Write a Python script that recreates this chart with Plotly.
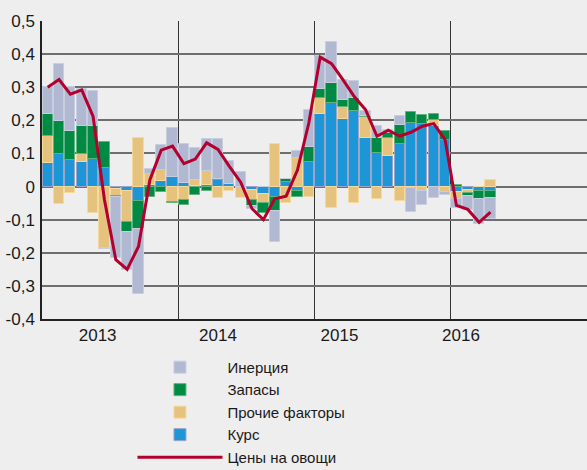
import plotly.graph_objects as go

# Month index 0 = Jan 2013
months = list(range(40))

kurs = [0.071, 0.098, 0.081, 0.075, 0.084, 0.056, -0.007, -0.014, -0.043, 0.004,
        0.018, 0.028, 0.012, 0.003, 0.006, 0.021, 0.009, 0.0, -0.011, -0.022,
        -0.031, 0.013, -0.012, 0.073, 0.22, 0.252, 0.204, 0.227, 0.147, 0.101,
        0.093, 0.13, 0.192, 0.19, 0.182, 0.142, -0.017, -0.011, -0.014, -0.014]
prochie = [0.081, -0.052, -0.019, 0.024, -0.079, -0.185, -0.02, -0.093, 0.147, 0.035,
           0.033, -0.047, -0.042, 0.016, 0.042, -0.034, -0.012, -0.034, -0.031, -0.027,
           0.129, -0.051, 0.086, -0.031, 0.046, -0.064, 0.036, -0.049, 0.063, -0.039,
           0.053, -0.044, -0.005, -0.014, 0.018, -0.017, -0.02, -0.008, 0.0, 0.02]
zapasy = [0.068, 0.099, 0.086, 0.084, 0.098, 0.078, -0.004, -0.03, -0.084, -0.031,
          -0.017, -0.003, -0.014, -0.024, -0.012, 0.003, 0.0, 0.0, -0.017, -0.03,
          -0.043, 0.009, -0.02, 0.045, 0.028, 0.06, 0.022, 0.04, 0.004, 0.045,
          0.015, 0.057, 0.032, 0.026, 0.02, 0.025, 0.004, -0.01, -0.023, -0.021]
inertsiya = [0.08, 0.173, 0.133, 0.111, 0.108, -0.003, -0.186, -0.115, -0.198, 0.014,
             0.075, 0.148, 0.116, 0.096, 0.096, 0.12, 0.069, 0.043, -0.008, 0.0,
             -0.093, 0.0, 0.021, 0.114, 0.099, 0.124, 0.061, 0.053, 0.013, 0.038,
             0.011, 0.025, -0.071, -0.043, -0.034, -0.008, -0.027, -0.043, -0.075, -0.062]
ceny = [0.30, 0.323, 0.279, 0.292, 0.212, -0.04, -0.221, -0.25, -0.181, 0.02,
        0.11, 0.122, 0.069, 0.083, 0.132, 0.112, 0.061, 0.013, -0.067, -0.1,
        -0.037, -0.029, 0.05, 0.192, 0.391, 0.371, 0.323, 0.272, 0.232, 0.152,
        0.17, 0.152, 0.164, 0.182, 0.19, 0.142, -0.057, -0.069, -0.108, -0.077]

year_labels = ["2013", "2014", "2015", "2016"]
year_label_pos = [4.4, 15.0, 25.7, 36.4]
year_bounds = [11.5, 23.5, 35.5]
y_ticks = [0.5, 0.4, 0.3, 0.2, 0.1, 0, -0.1, -0.2, -0.3, -0.4]
y_ticktext = ["0,5", "0,4", "0,3", "0,2", "0,1", "0", "-0,1", "-0,2", "-0,3", "-0,4"]

FONT = "Liberation Sans, Arial, sans-serif"

fig = go.Figure()
series = [
    ("Курс", kurs, "#1c96d6", "#9aa5c8", 4),
    ("Прочие факторы", prochie, "#e5c27e", "#f6d99c", 3),
    ("Запасы", zapasy, "#008a43", "#62b27f", 2),
    ("Инерция", inertsiya, "#b1b8d1", "#c8cee0", 1),
]
for name, vals, col, lcol, rank in series:
    fig.add_trace(go.Bar(
        x=months, y=vals, name=name, width=0.9,
        marker=dict(color=col, line=dict(color=lcol, width=1)),
        legendrank=rank,
    ))
fig.add_trace(go.Scatter(
    x=months, y=ceny, name="Цены на овощи", mode="lines",
    line=dict(color="#b3002f", width=3), legendrank=5,
))

fig.update_layout(
    width=587, height=470,
    barmode="relative", bargap=0,
    paper_bgcolor="#eeeeee", plot_bgcolor="#eeeeee",
    margin=dict(l=42, r=0, t=21, b=151, autoexpand=False),
    font=dict(family=FONT, size=17, color="#1a1a1a"),
    showlegend=True,
    legend=dict(
        x=0.166, y=-0.107, xanchor="left", yanchor="top",
        bgcolor="rgba(0,0,0,0)", font=dict(size=15),
        itemwidth=85, tracegroupgap=0,
    ),
)
fig.update_xaxes(
    range=[-0.5, 47.5], tickvals=year_label_pos, ticktext=year_labels,
    showgrid=False, zeroline=False, ticks="",
    showline=True, linecolor="#222222", linewidth=1.5,
    minor=dict(tickvals=year_bounds, showgrid=True, gridcolor="#333333", gridwidth=1),
    automargin=False,
)
fig.update_yaxes(
    range=[-0.4, 0.5], tickvals=y_ticks, ticktext=y_ticktext,
    showgrid=True, gridcolor="#6e6e6e", gridwidth=1.5,
    zeroline=True, zerolinecolor="#6e6e6e", zerolinewidth=1.5,
    showline=True, linecolor="#222222", linewidth=1.5,
    ticks="outside", ticklen=2, tickcolor="rgba(0,0,0,0)",
    automargin=False,
)
fig.write_html("out.html", config={"displayModeBar": False},
               post_script="document.body.style.margin='0';")
